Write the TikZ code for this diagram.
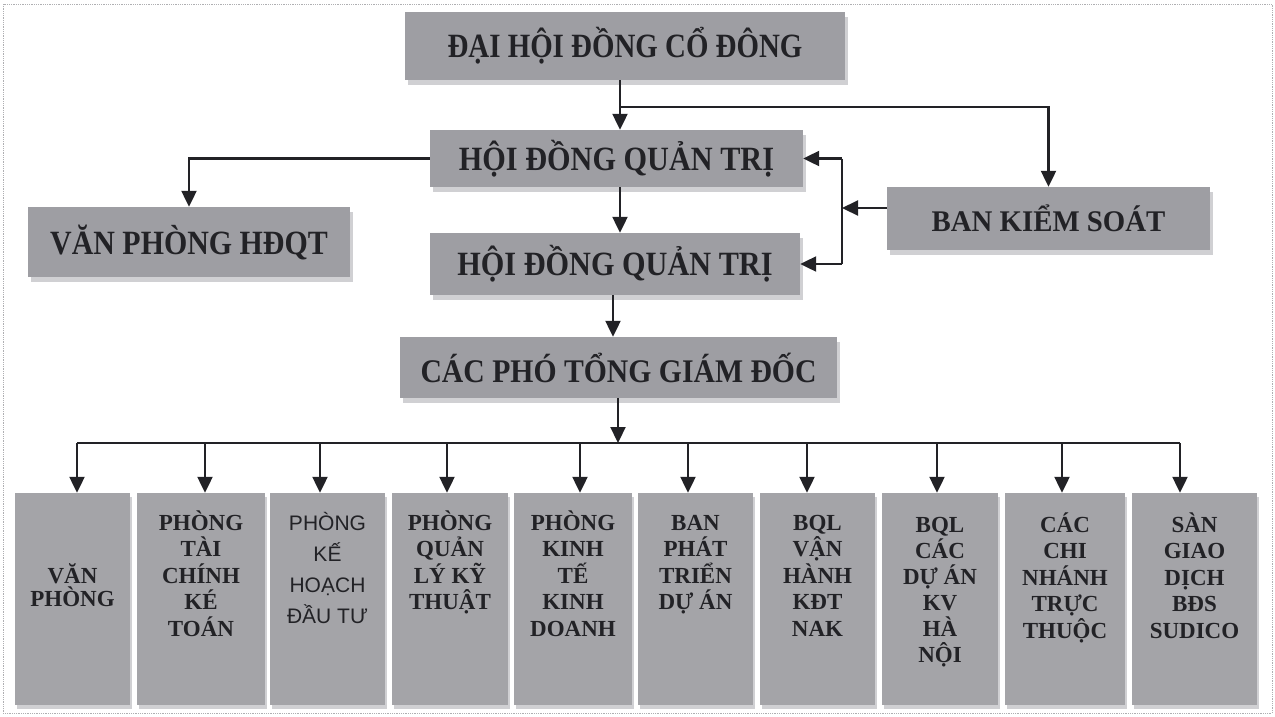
\documentclass[tikz,border=0pt]{standalone}
\usepackage{fontspec}
\setmainfont{Liberation Serif}
\newfontfamily\sansf{Liberation Sans}
\usetikzlibrary{arrows.meta,shadows}
\definecolor{boxgray}{RGB}{158,158,163}
\definecolor{boxgrayb}{RGB}{164,164,168}
\definecolor{shadowgray}{RGB}{208,208,211}
\definecolor{ink}{RGB}{34,34,38}
\definecolor{framec}{RGB}{175,175,178}
\begin{document}
\begin{tikzpicture}[x=1pt,y=-1pt,
  box/.style={fill=boxgray, draw=none, inner sep=0pt,
    drop shadow={shadow xshift=3pt, shadow yshift=-5pt, fill=shadowgray, opacity=1}},
  lowbox/.style={fill=boxgrayb, draw=none, inner sep=0pt, minimum height=212pt,
    drop shadow={shadow xshift=2pt, shadow yshift=-4pt, fill=shadowgray, opacity=1}},
  arr/.style={-{Triangle[length=16pt,width=15pt]}, line width=2.2pt, draw=ink},
  ln/.style={line width=2.2pt, draw=ink},
  big/.style={font=\bfseries\fontsize{34}{40}\selectfont, text=ink},
  lbl/.style={font=\bfseries\fontsize{23}{26.5}\selectfont, text=ink, align=center, inner sep=0pt, anchor=north},
  lbls/.style={font=\sansf\fontsize{21}{31}\selectfont, text=ink, align=center, inner sep=0pt, anchor=north}]
\useasboundingbox (0,0) rectangle (1275,716);
\draw[framec, densely dotted, line width=0.8pt] (3,4) rectangle (1272,713);

% upper boxes
\node[box, big, minimum width=440pt, minimum height=68pt] (dh) at (625,46) {\scalebox{0.85}[1]{ĐẠI HỘI ĐỒNG CỔ ĐÔNG}};
\node[box, big, minimum width=373pt, minimum height=57pt] (hq1) at (616.5,158.5) {\scalebox{0.89}[1]{HỘI ĐỒNG QUẢN TRỊ}};
\node[box, big, minimum width=322pt, minimum height=70pt] (vp) at (189,242) {\scalebox{0.88}[1]{VĂN PHÒNG HĐQT}};
\node[box, big, minimum width=370pt, minimum height=62pt] (hq2) at (615,264) {\scalebox{0.89}[1]{HỘI ĐỒNG QUẢN TRỊ}};
\node[box, big, font=\bfseries\fontsize{30}{36}\selectfont, minimum width=323pt, minimum height=63pt] (bks) at (1048.5,218.5) {\scalebox{0.96}[1]{BAN KIỂM SOÁT}};
\node[box, big, font=\bfseries\fontsize{33}{40}\selectfont, minimum width=437pt, minimum height=61pt] (cp) at (618.5,367.5) {\scalebox{0.9}[1]{CÁC PHÓ TỔNG GIÁM ĐỐC}};

% lower boxes
\node[lowbox, minimum width=115pt] (b1) at (72.5,599) {};
\node[lowbox, minimum width=128pt] (b2) at (201,599) {};
\node[lowbox, minimum width=115pt] (b3) at (327.5,599) {};
\node[lowbox, minimum width=116pt] (b4) at (450,599) {};
\node[lowbox, minimum width=118pt] (b5) at (573,599) {};
\node[lowbox, minimum width=115pt] (b6) at (695.5,599) {};
\node[lowbox, minimum width=115pt] (b7) at (817.5,599) {};
\node[lowbox, minimum width=116pt] (b8) at (940,599) {};
\node[lowbox, minimum width=120pt] (b9) at (1065,599) {};
\node[lowbox, minimum width=125pt] (b10) at (1194.5,599) {};

\node[lbl, font=\bfseries\fontsize{23}{23}\selectfont] (t1) at (72.5,561) {\rule{0pt}{22pt}VĂN\\PHÒNG};
\node[lbl] (t2) at (201,508) {\rule{0pt}{22pt}PHÒNG\\TÀI\\CHÍNH\\KÉ\\TOÁN};
\node[lbls] (t3) at (327.5,508) {\rule{0pt}{22pt}PHÒNG\\KẾ\\HOẠCH\\ĐẦU TƯ};
\node[lbl] (t4) at (450,508) {\rule{0pt}{22pt}PHÒNG\\QUẢN\\LÝ KỸ\\THUẬT};
\node[lbl] (t5) at (573,508) {\rule{0pt}{22pt}PHÒNG\\KINH\\TẾ\\KINH\\DOANH};
\node[lbl] (t6) at (695.5,508) {\rule{0pt}{22pt}BAN\\PHÁT\\TRIỂN\\DỰ ÁN};
\node[lbl] (t7) at (817.5,508) {\rule{0pt}{22pt}BQL\\VẬN\\HÀNH\\KĐT\\NAK};
\node[lbl, font=\bfseries\fontsize{23}{26}\selectfont] (t8) at (940,510) {\rule{0pt}{22pt}BQL\\CÁC\\DỰ ÁN\\KV\\HÀ\\NỘI};
\node[lbl] (t9) at (1065,510) {\rule{0pt}{22pt}CÁC\\CHI\\NHÁNH\\TRỰC\\THUỘC};
\node[lbl] (t10) at (1194.5,510) {\rule{0pt}{22pt}SÀN\\GIAO\\DỊCH\\BĐS\\SUDICO};

% connectors (upper)
\coordinate (x620) at (620,0);
\coordinate (j1) at (620,107);
\coordinate (k) at (842,208);
\coordinate (x613) at (613,0);
\coordinate (x618) at (618,0);
\draw[arr] (dh.south -| x620) -- (hq1.north -| x620);
\draw[arr] (j1) -| (bks.north);
\draw[arr] (hq1.west) -| (vp.north);
\draw[arr] (hq1.south -| x620) -- (hq2.north -| x620);
\draw[arr] (k -| bks.west) -- (k);
\draw[ln] (k |- hq1.east) -- (k |- hq2.east);
\draw[arr] (k |- hq1.east) -- (hq1.east);
\draw[arr] (k |- hq2.east) -- (hq2.east);
\draw[arr] (hq2.south -| x613) -- (cp.north -| x613);

% bus
\coordinate (bus) at (618,443);
\coordinate (d1) at (77,443);
\coordinate (d2) at (205,443);
\coordinate (d3) at (320,443);
\coordinate (d4) at (447,443);
\coordinate (d5) at (580,443);
\coordinate (d6) at (688,443);
\coordinate (d7) at (807,443);
\coordinate (d8) at (937,443);
\coordinate (d9) at (1062,443);
\coordinate (d10) at (1180,443);
\draw[arr] (cp.south -| x618) -- (bus);
\draw[ln] (d1) -- (d10);
\foreach \i in {1,...,10} {
  \draw[arr] (d\i) -- (d\i |- b\i.north);
}
\end{tikzpicture}
\end{document}
